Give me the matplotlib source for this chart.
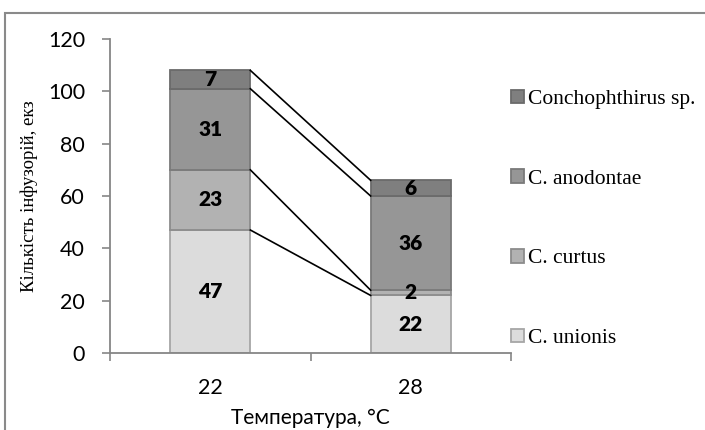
import matplotlib
matplotlib.use("Agg")
import matplotlib.pyplot as plt
from matplotlib.patches import Rectangle
import numpy as np

categories = ["22", "28"]
series_names = ["C. unionis", "C. curtus", "C. anodontae", "Conchophthirus sp."]
unionis = [47, 22]
curtus = [23, 2]
anodontae = [31, 36]
conchophthirus = [7, 6]
colors = ["#dcdcdc", "#b2b2b2", "#969696", "#7f7f7f"]
edges = ["#a6a6a6", "#8c8c8c", "#7a7a7a", "#6a6a6a"]
yticks = [0, 20, 40, 60, 80, 100, 120]

series = [unionis, curtus, anodontae, conchophthirus]

fig = plt.figure(figsize=(7.05, 4.30), dpi=100)
ax = fig.add_axes([110/705, 1-353/430, 401/705, 314/430])

x = np.arange(len(categories))
bw = 0.4
bottom = np.zeros(len(categories))
handles = []
tops = []
for vals, c, ec, name in zip(series, colors, edges, series_names):
    vals = np.array(vals, dtype=float)
    b = ax.bar(x, vals, bw, bottom=bottom, color=c, edgecolor=ec, linewidth=1.3, label=name, zorder=2)
    handles.append(b)
    for xi, v, bt in zip(x, vals, bottom):
        ax.text(xi, bt + v/2, f"{int(v)}", ha="center", va="center",
                fontsize=15, fontweight="heavy", family="Lato", color="black", zorder=4)
    bottom = bottom + vals
    tops.append(bottom.copy())

# series lines
for t in tops:
    ax.plot([x[0] + bw/2, x[1] - bw/2], [t[0], t[1]], color="black", lw=1.2, zorder=3)

ax.set_xlim(-0.5, 1.5)
ax.set_ylim(0, 120)
ax.set_yticks(yticks)
ax.set_yticklabels([str(v) for v in yticks], family="Lato", fontsize=15.5)
ax.set_xticks(x)
ax.set_xticklabels(categories, family="Lato", fontsize=15.5)
ax.set_xticks([-0.5, 0.5, 1.5], minor=True)
ax.tick_params(axis="x", which="major", length=0, pad=18)
ax.tick_params(axis="x", which="minor", length=6, color="#868686", width=1.2)
ax.tick_params(axis="y", length=6, color="#868686", width=1.2, pad=12)
for s in ["top", "right"]:
    ax.spines[s].set_visible(False)
for s in ["left", "bottom"]:
    ax.spines[s].set_color("#868686")
    ax.spines[s].set_linewidth(1.3)

ax.set_xlabel("Температура, °C", family="Lato", fontsize=15, labelpad=7)
ax.set_ylabel("Кількість інфузорій, екз", family="Liberation Serif", fontsize=13.5, labelpad=7)

leg = ax.legend(handles[::-1], series_names[::-1], loc="upper left",
                bbox_to_anchor=(502/705, 1-81/430), bbox_transform=fig.transFigure,
                frameon=False, prop={"family": "Liberation Serif", "size": 15.5},
                handlelength=0.6, handleheight=0.6, handletextpad=0.2,
                labelspacing=2.8, borderaxespad=0)

fig.patches.append(Rectangle((4.5/705, -0.1), 2.0, 1 - 12.5/430 + 0.1,
                             transform=fig.transFigure, fill=False,
                             edgecolor="#8a8a8a", linewidth=1.5))

fig.savefig("out.png", dpi=100)
